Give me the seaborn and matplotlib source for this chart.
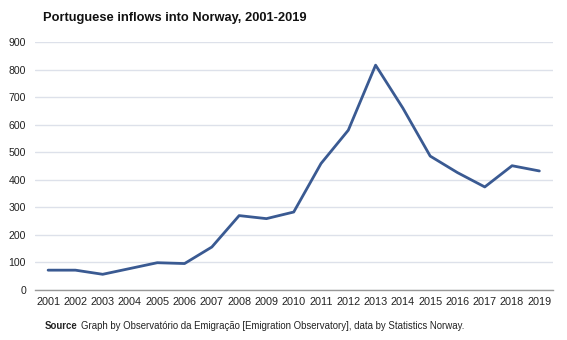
import matplotlib
matplotlib.use("Agg")
import matplotlib.pyplot as plt
import seaborn as sns
import pandas as pd

years = [str(y) for y in range(2001, 2020)]
inflows = [72, 72, 57, 78, 99, 96, 156, 270, 259, 283, 459, 580, 816, 660, 486, 426, 374, 451, 432]
yticks = [0, 100, 200, 300, 400, 500, 600, 700, 800, 900]

df = pd.DataFrame({"year": years, "inflows": inflows})

sns.set_theme(style="white")
plt.rcParams['font.family'] = ['Liberation Sans', 'DejaVu Sans']

fig = plt.figure(figsize=(5.67, 3.4), dpi=100)
ax = fig.add_axes([35/567, 1 - 290/340, (553-35)/567, (290-42)/340])

sns.lineplot(data=df, x="year", y="inflows", ax=ax, color="#3a5a92", linewidth=2, sort=False)

ax.set_ylim(0, 900)
ax.set_xlim(-0.48, 18.5)
ax.set_yticks(yticks)
ax.set_yticklabels([str(v) for v in yticks], fontsize=7.6, color="#222222")
ax.tick_params(axis='x', labelsize=7.8, colors="#222222", length=0, pad=5)
ax.tick_params(axis='y', length=0, pad=6.5)
for lab in ax.get_xticklabels():
    lab.set_color("#222222")
ax.grid(axis='y', color="#dde1ea", linewidth=1)
ax.set_axisbelow(True)
for s in ["top", "right", "left"]:
    ax.spines[s].set_visible(False)
ax.spines["bottom"].set_color("#999999")
ax.spines["bottom"].set_linewidth(1)
ax.set_xlabel("")
ax.set_ylabel("")

fig.text(43/567, 1 - 18/340, "Portuguese inflows into Norway, 2001-2019", fontsize=9.3,
         fontweight="bold", ha="left", va="center", color="#111111")
fig.text(45/567, 1 - 326/340, "Source", fontsize=6.9, fontweight="bold", ha="left", va="center", color="#222222")
fig.text(81/567, 1 - 326/340, "Graph by Observatório da Emigração [Emigration Observatory], data by Statistics Norway.",
         fontsize=6.9, ha="left", va="center", color="#222222")

fig.savefig("out.png", dpi=100, facecolor="white")
